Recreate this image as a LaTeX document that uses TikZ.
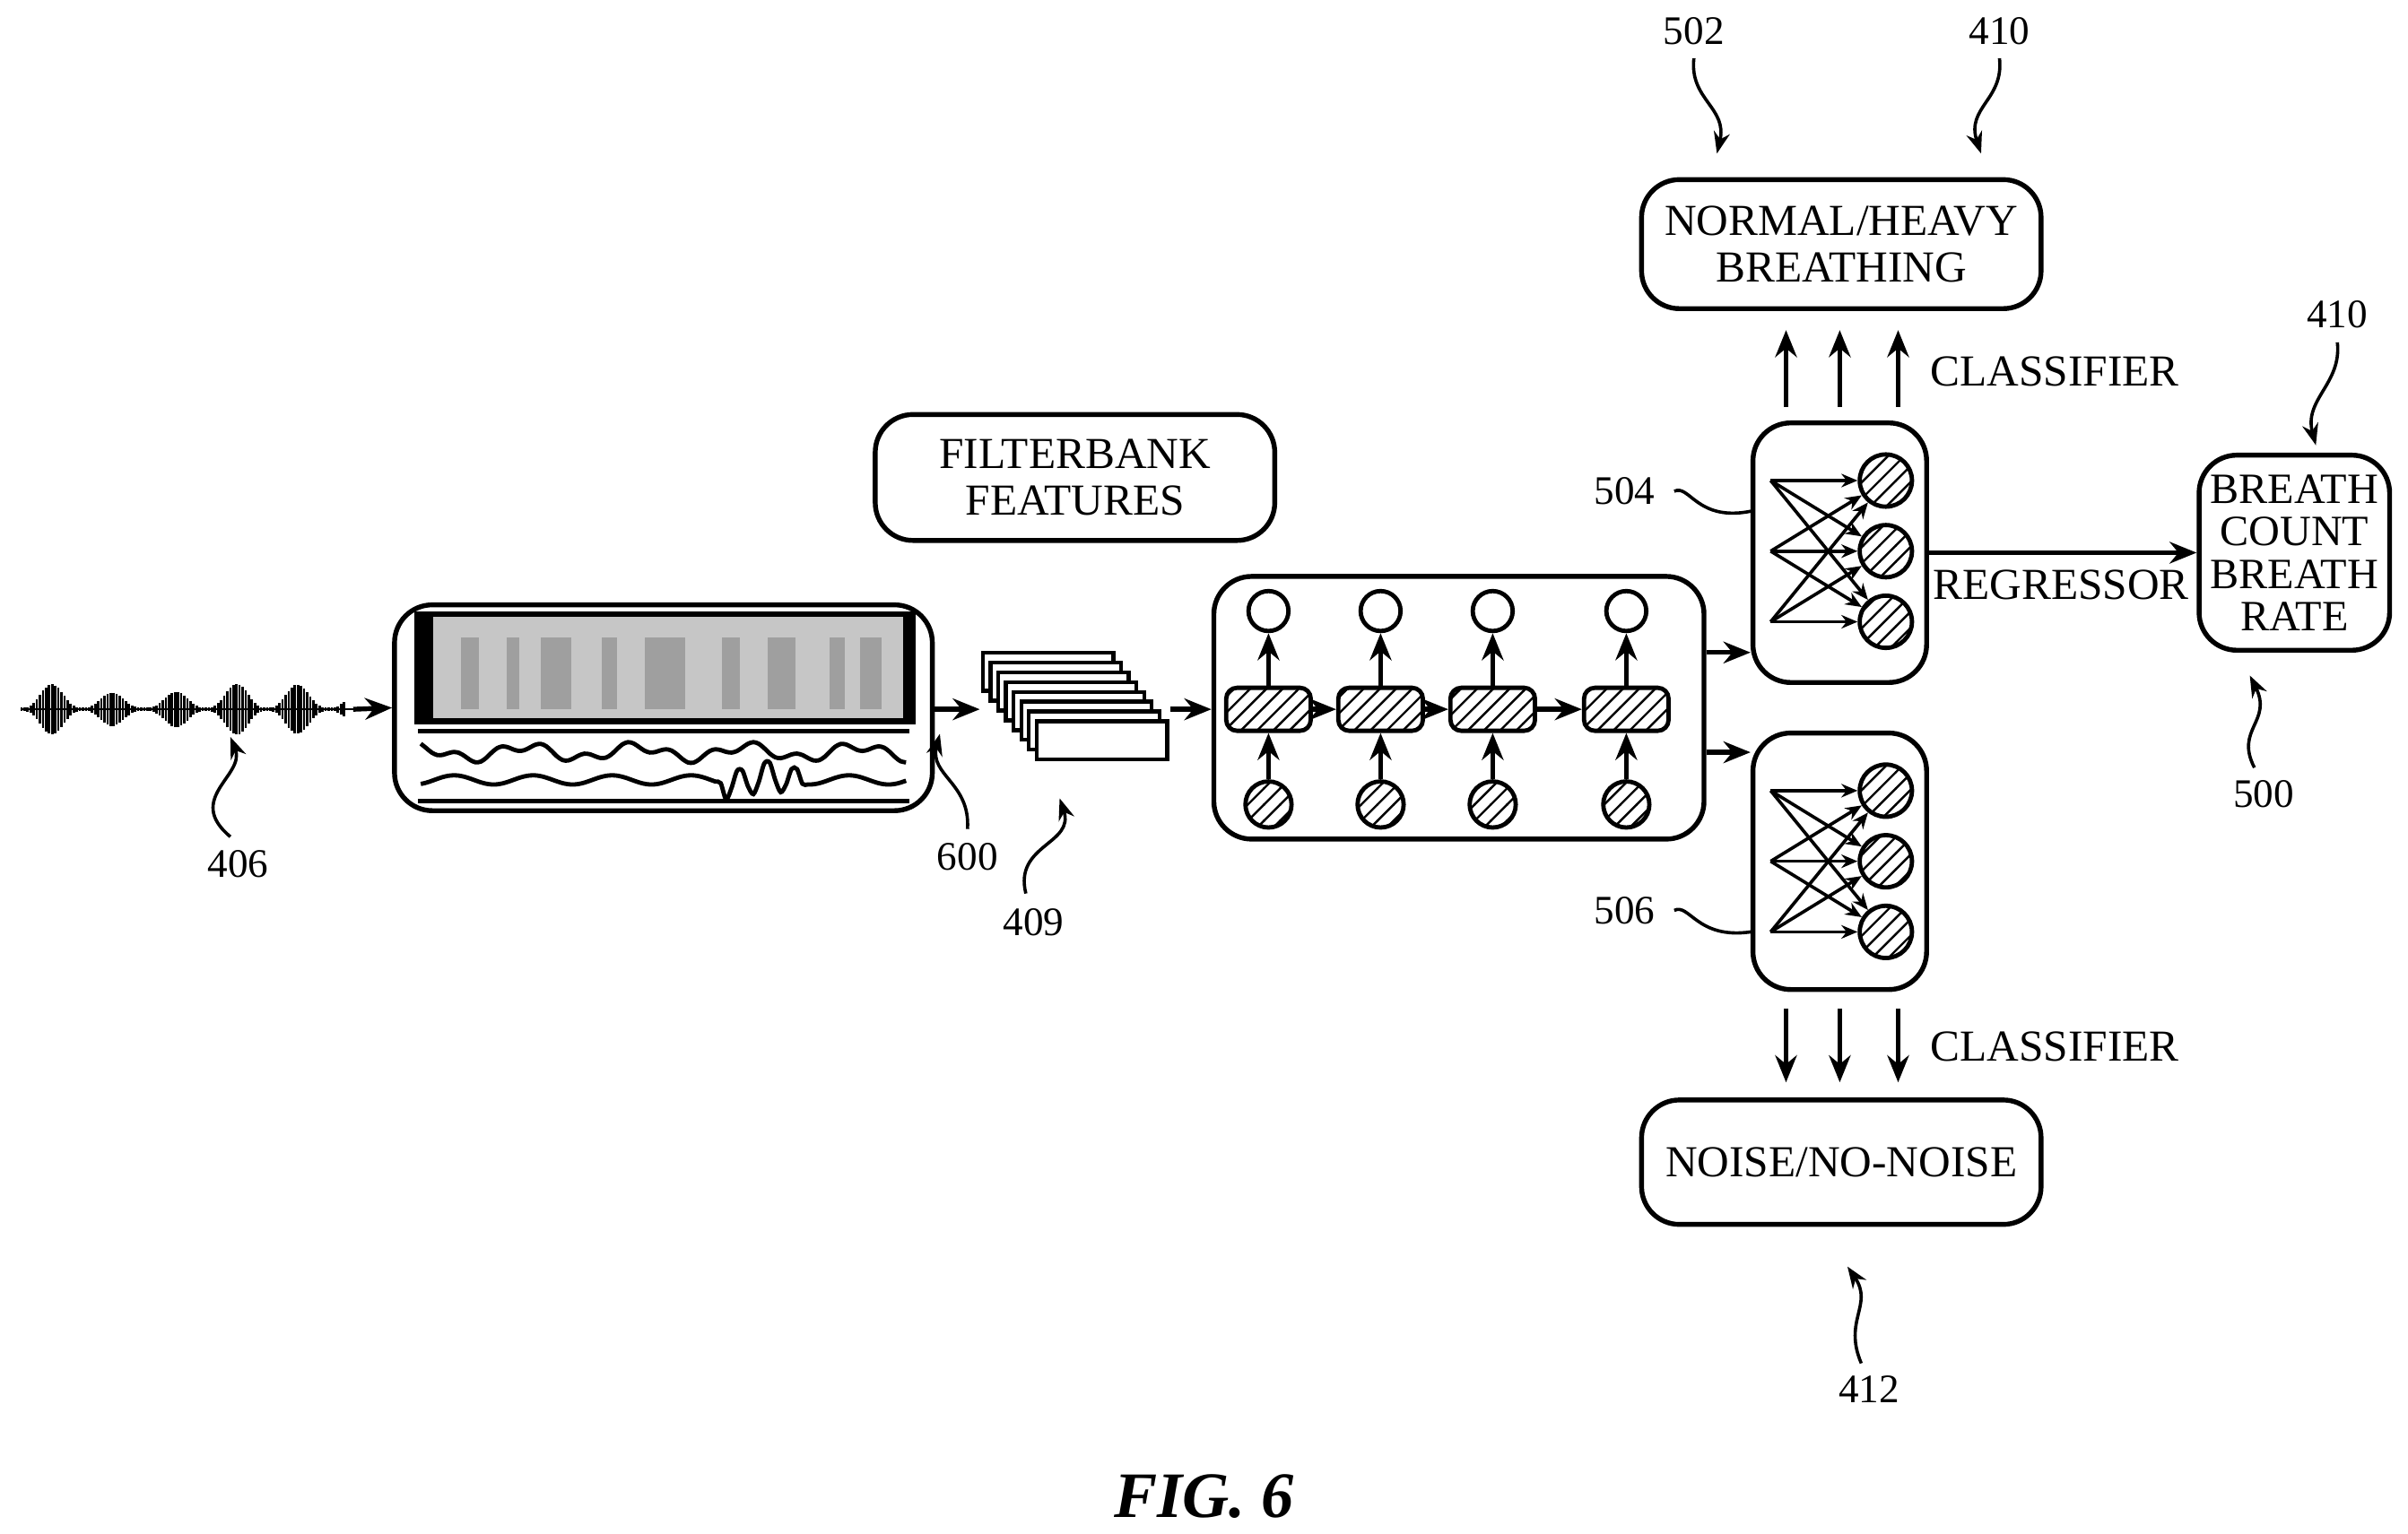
\documentclass[tikz,border=0pt]{standalone}
\usepackage{fontspec}
\setmainfont{Liberation Serif}
\usetikzlibrary{arrows.meta,patterns,calc}
\tikzset{
  box/.style={draw, line width=0.9pt, rounded corners=7pt, align=center, inner sep=1pt, font=\fontsize{8.2}{8.6}\selectfont},
  lbl/.style={font=\fontsize{7.5}{9}\selectfont},
  arr/.style={line width=0.9pt, -{Stealth[length=5pt,width=4pt]}},
  lead/.style={line width=0.6pt, -{Stealth[length=4pt,width=3pt]}},
  hcirc/.style={draw, line width=0.8pt, circle, minimum size=0.33cm, inner sep=0pt, pattern=north east lines},
  ocirc/.style={draw, line width=0.8pt, circle, minimum size=0.26cm, inner sep=0pt, fill=white},
  cell/.style={draw, line width=0.8pt, rounded corners=2pt, minimum width=0.55cm, minimum height=0.28cm, inner sep=0pt, pattern=north east lines}
}
\begin{document}
\begin{tikzpicture}[x=0.01cm,y=-0.01cm]
	\useasboundingbox (0,0) rectangle (1568,999);
	% audio waveform
	\foreach \i in {0,...,105}{
		\pgfmathsetmacro{\h}{1+16*abs(sin(\i*9))^3*(0.4+0.6*abs(cos(\i*2.3)))}
		\draw[line width=0.45pt] (14+2*\i,462-\h) -- (14+2*\i,462+\h);
	}
	\coordinate (wave) at (230,462);
	\draw[line width=0.4pt] (14,462) -- (wave);
	% spectrogram
	\node[box, minimum width=3.5cm, minimum height=1.34cm] (spec) at (432,461) {};
	\fill[black] (270,398) rectangle (596,472);
	\fill[gray!45] (282,402) rectangle (588,468);
	\foreach \xx/\w in {300/12,330/8,352/20,392/10,420/26,470/12,500/18,540/10,560/14}
		\fill[gray!75] (\xx,415) rectangle (\xx+\w,462);
	\draw[line width=0.8pt] (272,476) -- (592,476);
	\draw[line width=0.8pt] (272,522) -- (592,522);
	\draw[line width=0.8pt] plot[domain=274:590, samples=90, smooth] (\x,{490+4*sin(\x*5)+3*sin(\x*13)});
	\draw[line width=0.8pt] plot[domain=274:590, samples=90, smooth] (\x,{508+3*sin(\x*7)+(\x>470)*(\x<520)*10*sin(\x*20)});
	\draw[arr] (wave) -- (spec.west);
	% filterbank frames
	\foreach \k in {0,...,7}
		\draw[line width=0.7pt, fill=white] (640+5*\k,425+6.4*\k) rectangle (725+5*\k,450+6.4*\k);
	\coordinate (fin) at (638,462);
	\coordinate (fout) at (762,462);
	\draw[arr] (spec.east |- fin) -- (fin);
	\node[box, minimum width=2.6cm, minimum height=0.82cm] (fb) at (700,311) {FILTERBANK\\FEATURES};
	% recurrent network
	\node[box, minimum width=3.19cm, minimum height=1.71cm] (rnn) at (950,461) {};
	\foreach \xx [count=\n] in {826,899,972,1059}{
		\node[ocirc] (o\n) at (\xx,398) {};
		\node[cell] (c\n) at (\xx,462) {};
		\node[hcirc, minimum size=0.3cm] (i\n) at (\xx,524) {};
		\draw[arr] (i\n) -- (c\n);
		\draw[arr] (c\n) -- (o\n);
	}
	\foreach \a/\b in {1/2,2/3,3/4} \draw[arr] (c\a) -- (c\b);
	\draw[arr] (fout) -- (rnn.west |- fout);
	% dense heads
	\node[box, minimum width=1.13cm, minimum height=1.69cm] (nnA) at (1198,360) {};
	\node[box, minimum width=1.13cm, minimum height=1.67cm] (nnB) at (1198,561) {};
	\foreach \h/\yy in {A/313,B/515}{
		\foreach \r in {0,1,2}{
			\coordinate (\h in\r) at (1153,\yy+46*\r);
			\node[hcirc, minimum size=0.34cm] (\h out\r) at (1228,\yy+46*\r) {};
		}
		\foreach \r in {0,1,2} \foreach \s in {0,1,2}
			\draw[line width=0.6pt, -{Stealth[length=3pt,width=2.5pt]}] (\h in\r) -- (\h out\s);
	}
	\draw[arr] (rnn.east |- 0,425) -- (nnA.west |- 0,425);
	\draw[arr] (rnn.east |- 0,490) -- (nnB.west |- 0,490);
	% outputs
	\node[box, minimum width=2.6cm, minimum height=0.84cm] (heavy) at (1199,159) {NORMAL/HEAVY\\BREATHING};
	\node[box, minimum width=2.6cm, minimum height=0.81cm] (noise) at (1199,757) {NOISE/NO-NOISE};
	\node[box, minimum width=1.24cm, minimum height=1.27cm, inner sep=0pt, font=\fontsize{8}{7.9}\selectfont] (rate) at (1494,360) {BREATH\\COUNT\\BREATH\\RATE};
	\foreach \xx in {1163,1198,1236}{
		\draw[arr] (\xx,265) -- (\xx,215);
		\draw[arr] (\xx,657) -- (\xx,705);
	}
	\node[box, draw=none] at (1338,242) {CLASSIFIER};
	\node[box, draw=none] at (1338,682) {CLASSIFIER};
	\draw[arr] (nnA.east |- 0,360) -- (rate.west |- 0,360);
	\node[box, draw=none] at (1342,381) {REGRESSOR};
	% reference numerals
	\node[lbl] (n406) at (155,563) {406};
	\draw[lead] (150,545) .. controls (120,520) and (160,505) .. (150,480);
	\node[lbl] (n600) at (630,558) {600};
	\draw[lead] (630,540) .. controls (632,510) and (605,505) .. (612,478);
	\node[lbl] (n409) at (673,601) {409};
	\draw[lead] (668,582) .. controls (660,550) and (700,550) .. (690,520);
	\node[lbl] (n504) at (1058,320) {504};
	\draw[line width=0.6pt] (n504.east) .. controls (1100,315) and (1105,340) .. (1140,333);
	\node[lbl] (n506) at (1058,593) {506};
	\draw[line width=0.6pt] (n506.east) .. controls (1100,588) and (1105,612) .. (1140,607);
	\node[lbl] (n502) at (1103,20) {502};
	\draw[lead] (1103,38) .. controls (1100,65) and (1125,70) .. (1118,100);
	\node[lbl] (n410a) at (1302,20) {410};
	\draw[lead] (1302,38) .. controls (1305,65) and (1280,70) .. (1290,100);
	\node[lbl] (n410b) at (1522,205) {410};
	\draw[lead] (1522,223) .. controls (1525,250) and (1500,260) .. (1508,290);
	\node[lbl] (n500) at (1474,517) {500};
	\draw[lead] (1468,500) .. controls (1455,475) and (1480,470) .. (1465,440);
	\node[lbl] (n412) at (1217,905) {412};
	\draw[lead] (1212,888) .. controls (1200,860) and (1220,850) .. (1203,825);
	\node[font=\fontsize{12}{14}\selectfont\bfseries\itshape] (fig) at (784,975) {FIG. 6};
\end{tikzpicture}
\end{document}
